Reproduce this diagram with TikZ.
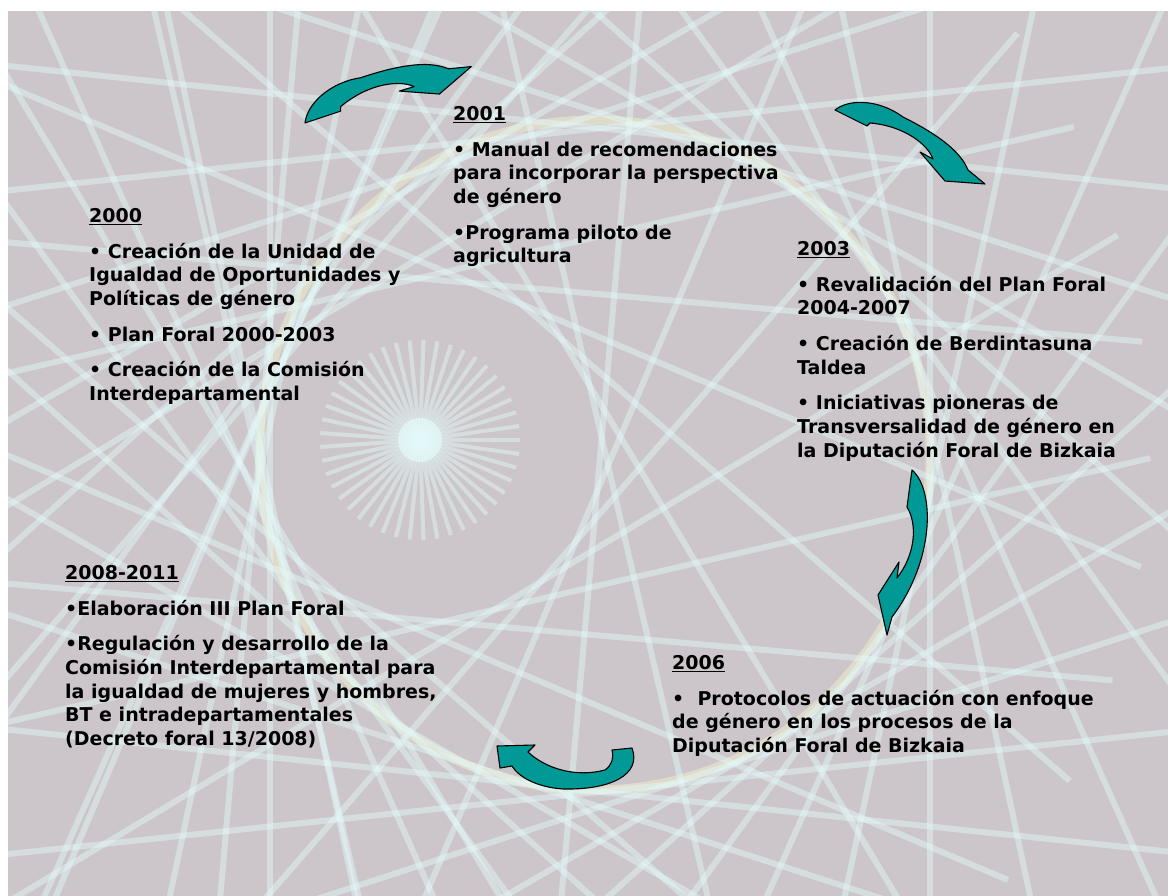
\documentclass[tikz,border=0pt]{standalone}
\usepackage{fontspec}
\setmainfont{DejaVu Sans}
\usetikzlibrary{positioning}
\definecolor{slidegray}{RGB}{204,198,202}
\definecolor{threadcyan}{RGB}{228,250,250}
\definecolor{ringyellow}{RGB}{240,238,205}
\definecolor{arrowteal}{RGB}{0,153,150}
\newcommand\yearlbl[1]{\setbox0\hbox{#1}\rlap{\rule[-3pt]{\wd0}{1.6pt}}\box0}
% one bent block arrow, tail at the origin
\newcommand\bentarrow{(0,0) .. controls (15,-12) and (45,-10) .. (68,7)
  .. controls (100,23) and (125,40) .. (133,60) -- (150,74) -- (110,71)
  -- (85,42) -- (98,49) .. controls (93,35) and (70,16) .. (35,13)
  -- (32,16) -- cycle}

\begin{document}
\begin{tikzpicture}[x=1pt,y=-1pt,
  block/.style={anchor=north west, inner sep=0pt, align=left,
    font=\fontsize{19}{23.7}\selectfont\bfseries},
  turn/.style={fill=arrowteal, draw=black, line width=1.1pt, line join=round},
  thread/.style={draw=threadcyan, line width=6pt, opacity=.45}]
\useasboundingbox (0,0) rectangle (1168,896);
\fill[slidegray] (8,11) rectangle (1168,896);

% background threads
\begin{scope}
  \clip (8,11) rectangle (1168,896);
  \draw[ringyellow, line width=9pt, opacity=.55] (595,455) circle (335);
  \foreach \a in {0,12,...,348}
    \draw[thread] ({600+330*cos(\a)-1000*sin(\a)},{460+330*sin(\a)+1000*cos(\a)})
      -- ({600+330*cos(\a)+1000*sin(\a)},{460+330*sin(\a)-1000*cos(\a)});
  \foreach \a in {5,23,...,350}
    \draw[thread] ({430+170*cos(\a)-700*sin(\a)},{450+170*sin(\a)+700*cos(\a)})
      -- ({430+170*cos(\a)+700*sin(\a)},{450+170*sin(\a)-700*cos(\a)});
  \foreach \a in {0,8,...,352}
    \draw[thread, line width=4pt] (420,440) -- ++({100*cos(\a)},{100*sin(\a)});
  \fill[threadcyan, opacity=.7] (420,440) circle (22);
\end{scope}

% curved arrows
\draw[turn, shift={(305,123)}, rotate=45, scale=1.05] \bentarrow;
\draw[turn, shift={(835,110)}] \bentarrow;
\draw[turn] (912,470) .. controls (935,490) and (935,560) .. (892,617)
  -- (887,635) -- (878,595) -- (899,562) -- (897,578)
  .. controls (915,555) and (918,525) .. (907,507) -- cycle;
\draw[turn] (632,748) .. controls (642,775) and (610,790) .. (563,789)
  .. controls (535,787) and (518,776) .. (512,766) -- (500,768) -- (497,746)
  -- (535,745) -- (528,752) .. controls (545,768) and (575,778) .. (605,770)
  .. controls (612,765) and (614,758) .. (612,750) -- cycle;

% text blocks
\node[block] (y2000) at (89,208) {\yearlbl{2000}\\[12pt]
  • Creación de la Unidad de\\
  Igualdad de Oportunidades y\\
  Políticas de género\\[12pt]
  • Plan Foral 2000-2003\\[12pt]
  • Creación de la Comisión\\
  Interdepartamental};
\node[block] (y2001) at (453,106) {\yearlbl{2001}\\[12pt]
  • Manual de recomendaciones\\
  para incorporar la perspectiva\\
  de género\\[12pt]
  •Programa piloto de\\
  agricultura};
\node[block] (y2003) at (797,241) {\yearlbl{2003}\\[12pt]
  • Revalidación del Plan Foral\\
  2004-2007\\[12pt]
  • Creación de Berdintasuna\\
  Taldea\\[12pt]
  • Iniciativas pioneras de\\
  Transversalidad de género en\\
  la Diputación Foral de Bizkaia};
\node[block] (y2006) at (672,655) {\yearlbl{2006}\\[12pt]
  •\ \ Protocolos de actuación con enfoque\\
  de género en los procesos de la\\
  Diputación Foral de Bizkaia};
\node[block] (y2011) at (65,565) {\yearlbl{2008-2011}\\[12pt]
  •Elaboración III Plan Foral\\[12pt]
  •Regulación y desarrollo de la\\
  Comisión Interdepartamental para\\
  la igualdad de mujeres y hombres,\\
  BT e intradepartamentales\\
  (Decreto foral 13/2008)};
\end{tikzpicture}
\end{document}
